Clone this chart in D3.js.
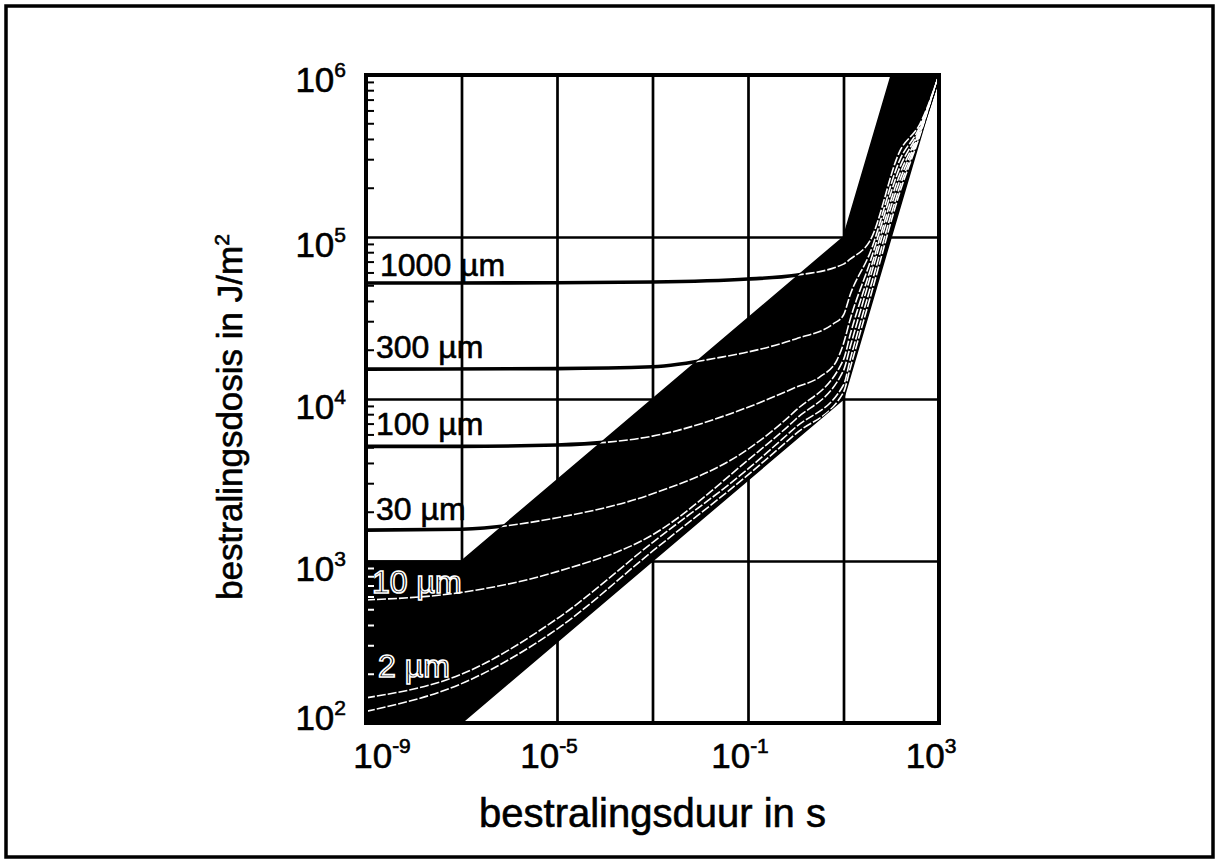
<!DOCTYPE html>
<html>
<head>
<meta charset="utf-8">
<script src="https://cdn.jsdelivr.net/npm/d3@7"></script>
<style>
  body { margin: 0; background: #fff; }
  svg { display: block; }
  text { font-family: Arial, "Liberation Sans", Helvetica, sans-serif; fill: #000; stroke: #000; stroke-width: 0.6px; }
</style>
</head>
<body>
<svg id="chart" width="1216" height="867"></svg>
<script>
// ---- axes ----
const xTickExps = [-9, -5, -1, 3];
const yTickExps = [2, 3, 4, 5, 6];
const xGridValues = [1e-9, 1e-7, 1e-5, 1e-3, 1e-1, 1e1, 1e3];
const yGridValues = [1e2, 1e3, 1e4, 1e5, 1e6];
const xTitle = "bestralingsduur in s";
const yTitle = "bestralingsdosis in J/m";

// ---- envelope of the exposure limits: [duration s, dose J/m²] ----
const bandUpper = [[1e-9, 1e3], [1e-7, 1e3], [10, 1e5], [100, 1e6], [1000, 1e6]];
const bandLower = [[1e-9, 1e2], [1e-7, 1e2], [10, 1e4], [1000, 1e6]];

// ---- dose curves for each absorption depth: [duration s, dose J/m²] ----
const depthLabels = ["1000 µm", "300 µm", "100 µm", "30 µm", "10 µm", "2 µm"];
const curve1000 = [[1e-9, 5.2e4], [1e-5, 5.22e4], [1e-3, 5.27e4], [0.1, 5.5e4], [1, 5.8e4], [10, 6.8e4], [13.8, 7.3e4], [36, 9.5e4], [152, 3.4e5], [400, 5.0e5], [1000, 1e6]];
const curve300 = [[1e-9, 1.53e4], [1e-5, 1.54e4], [1e-3, 1.58e4], [0.03, 1.82e4], [0.1, 1.95e4], [1, 2.35e4], [6, 2.9e4], [10, 3.3e4], [13.8, 4.4e4], [36, 8.0e4], [152, 3.0e5], [400, 4.8e5], [1000, 1e6]];
const curve100 = [[1e-9, 5.1e3], [1e-7, 5.1e3], [1e-5, 5.2e3], [1e-3, 5.9e3], [0.1, 8.9e3], [1, 1.18e4], [3.2, 1.37e4], [7.3, 1.74e4], [10, 2.2e4], [13.8, 3.1e4], [36, 7.0e4], [152, 2.7e5], [400, 4.65e5], [1000, 1e6]];
const curve30 = [[1e-9, 1.55e3], [1e-7, 1.57e3], [1e-5, 1.85e3], [1e-3, 2.6e3], [0.1, 4.9e3], [1, 8.5e3], [10, 1.75e4], [13.8, 2.5e4], [36, 6.2e4], [152, 2.45e5], [400, 4.55e5], [1000, 1e6]];
const curve10 = [[1e-9, 575], [1e-7, 640], [1e-5, 860], [1e-3, 1.45e3], [0.1, 4.2e3], [1, 7.5e3], [10, 1.5e4], [13.8, 2.1e4], [36, 5.6e4], [152, 2.25e5], [400, 4.45e5], [1000, 1e6]];
const curve2 = [[1e-9, 143], [1e-7, 200], [1e-5, 440], [1e-3, 1.3e3], [0.1, 3.7e3], [1, 6.7e3], [10, 1.22e4], [13.8, 1.75e4], [36, 4.8e4], [152, 2.05e5], [400, 4.35e5], [1000, 1e6]];
const curveEdge = [[1e-9, 118], [1e-7, 175], [1e-5, 380], [1e-3, 1.15e3], [0.1, 3.4e3], [1, 6.1e3], [10, 1.1e4], [13.8, 1.55e4], [36, 4.2e4], [152, 1.9e5], [400, 4.25e5], [1000, 1e6]];

const labelledCurves = [curve1000, curve300, curve100, curve30, curve10, curve2];
const allCurves = labelledCurves.concat([curveEdge]);

// ---- layout ----
const plot = { left: 366, right: 939, top: 75, bottom: 723 };
const svg = d3.select("#chart");

const x = d3.scaleLog().domain([1e-9, 1e3]).range([plot.left, plot.right]);
const y = d3.scaleLog().domain([1e2, 1e6]).range([plot.bottom, plot.top]);

// outer frame
svg.append("rect")
  .attr("x", 6).attr("y", 6).attr("width", 1207).attr("height", 851)
  .attr("fill", "none").attr("stroke", "#000").attr("stroke-width", 3.5);

// grid lines
const gx = svg.append("g")
  .attr("transform", `translate(0,${plot.bottom})`)
  .call(d3.axisBottom(x).tickValues(xGridValues).tickSize(-(plot.bottom - plot.top)).tickFormat(""));
const gy = svg.append("g")
  .attr("transform", `translate(${plot.left},0)`)
  .call(d3.axisLeft(y).tickValues(yGridValues).tickSize(-(plot.right - plot.left)).tickFormat(""));
[gx, gy].forEach(g => {
  g.select(".domain").remove();
  g.selectAll(".tick line").attr("stroke", "#000").attr("stroke-width", 2.7);
});

// minor ticks on the dose axis
const minorY = [];
for (let e = 2; e < 6; e++) for (let m = 2; m <= 9; m++) minorY.push(m * Math.pow(10, e));

const line = d3.line()
  .x(d => x(d[0]))
  .y(d => y(d[1]))
  .curve(d3.curveMonotoneX);

const bandPoints = bandUpper.concat(bandLower.slice().reverse());
const bandPath = d3.line().x(d => x(d[0])).y(d => y(d[1]))(bandPoints) + "Z";

svg.append("defs").append("clipPath").attr("id", "bandClip")
  .append("path").attr("d", bandPath);

// curves outside the envelope (black)
svg.append("g").selectAll("path").data(labelledCurves).join("path")
  .attr("d", line)
  .attr("fill", "none").attr("stroke", "#000").attr("stroke-width", 3.6);

function drawMinor(g, colour) {
  g.selectAll("line").data(minorY).join("line")
    .attr("x1", plot.left).attr("x2", plot.left + 8)
    .attr("y1", d => y(d)).attr("y2", d => y(d))
    .attr("stroke", colour).attr("stroke-width", 2);
}
drawMinor(svg.append("g"), "#000");

// envelope
svg.append("path").attr("d", bandPath).attr("fill", "#000").attr("stroke", "#000").attr("stroke-width", 1.5);

// curves inside the envelope (white)
const inner = svg.append("g").attr("clip-path", "url(#bandClip)");
inner.selectAll("path").data(allCurves).join("path")
  .attr("d", line)
  .attr("fill", "none").attr("stroke", "#fff").attr("stroke-width", 1.6)
  .attr("stroke-dasharray", "9,2");
drawMinor(svg.append("g").attr("clip-path", "url(#bandClip)"), "#fff");

// plot border
svg.append("rect")
  .attr("x", plot.left).attr("y", plot.top)
  .attr("width", plot.right - plot.left).attr("height", plot.bottom - plot.top)
  .attr("fill", "none").attr("stroke", "#000").attr("stroke-width", 4);

// depth labels
const labelDx = [14, 10, 10, 10, 6, 12];
const labelDy = [-7, -11, -11, -10, -7, -21];
depthLabels.forEach((txt, i) => {
  const h0 = labelledCurves[i][0][1];
  const inside = h0 < 1e3;
  svg.append("text")
    .attr("x", x(1e-9) + labelDx[i])
    .attr("y", y(h0) + labelDy[i])
    .attr("font-size", 32)
    .style("fill", "#000")
    .style("stroke", inside ? "#fff" : "#000")
    .style("stroke-width", inside ? "1.6px" : "0.6px")
    .text(txt);
});

// tick labels with superscript exponents
function powerLabel(sel, exp, supSize, rise) {
  sel.append("tspan").text("10");
  sel.append("tspan").attr("dy", -rise).attr("font-size", supSize).text(exp);
}

yTickExps.forEach(e => {
  const v = Math.pow(10, e);
  const t = svg.append("text")
    .attr("x", plot.left - 20)
    .attr("y", y(v) + (e === 2 ? 7 : (e === 6 ? 17 : 20)))
    .attr("text-anchor", "end")
    .attr("font-size", 35);
  powerLabel(t, String(e), 21, 15);
});

xTickExps.forEach((e, i) => {
  const v = Math.pow(10, e);
  const t = svg.append("text")
    .attr("x", x(v) + (i === 0 ? 16 : -8))
    .attr("y", 768)
    .attr("text-anchor", "middle")
    .attr("font-size", 35);
  powerLabel(t, String(e), 21, 15);
});

// axis titles
svg.append("text")
  .attr("x", (plot.left + plot.right) / 2)
  .attr("y", 827)
  .attr("text-anchor", "middle")
  .attr("font-size", 40)
  .text(xTitle);

const yt = svg.append("text")
  .attr("transform", `translate(242,${(plot.top + plot.bottom) / 2 + 18}) rotate(-90)`)
  .attr("text-anchor", "middle")
  .attr("font-size", 35);
yt.append("tspan").text(yTitle);
yt.append("tspan").attr("dy", -13).attr("font-size", 21).text("2");
</script>
</body>
</html>
